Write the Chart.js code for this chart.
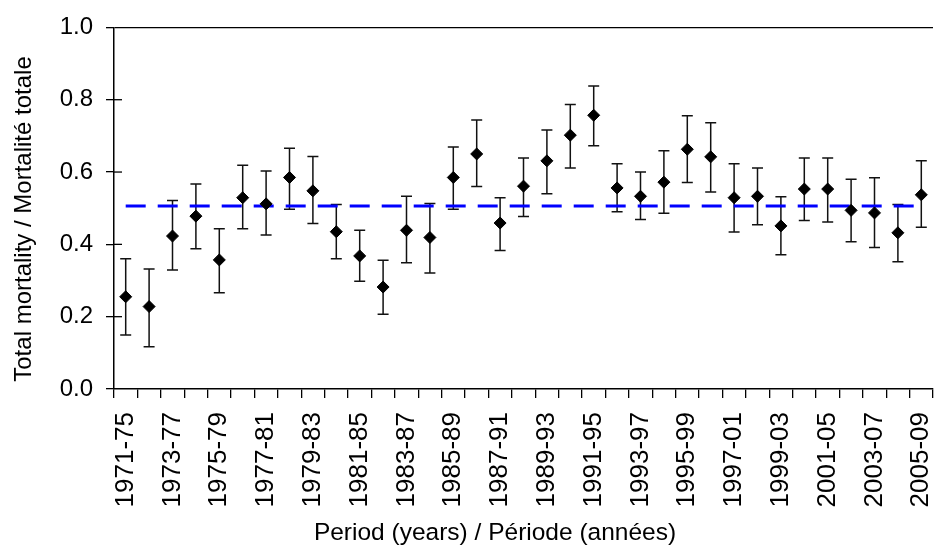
<!DOCTYPE html>
<html>
<head>
<meta charset="utf-8">
<script src="https://cdn.jsdelivr.net/npm/chart.js@4"></script>
<style>
  html, body { margin: 0; padding: 0; background: #fff; overflow: hidden; }
  #wrap { position: relative; width: 940px; height: 557px; }
</style>
</head>
<body>
<div id="wrap"><canvas id="myChart"></canvas></div>
<script>
// periods (5-year running windows)
const periods = ['1971-75','1972-76','1973-77','1974-78','1975-79','1976-80','1977-81','1978-82','1979-83','1980-84',
  '1981-85','1982-86','1983-87','1984-88','1985-89','1986-90','1987-91','1988-92','1989-93','1990-94',
  '1991-95','1992-96','1993-97','1994-98','1995-99','1996-00','1997-01','1998-02','1999-03','2000-04',
  '2001-05','2002-06','2003-07','2004-08','2005-09'];
// total mortality estimates
const mortality = [0.255,0.228,0.423,0.478,0.357,0.529,0.512,0.585,0.548,0.435,
  0.368,0.282,0.439,0.419,0.585,0.650,0.459,0.561,0.631,0.702,
  0.757,0.556,0.533,0.572,0.663,0.642,0.529,0.533,0.451,0.553,
  0.553,0.494,0.487,0.432,0.537];
// upper / lower limits of the error bars
const upper = [0.360,0.332,0.521,0.567,0.443,0.619,0.603,0.666,0.643,0.510,
  0.439,0.356,0.533,0.513,0.669,0.744,0.529,0.639,0.716,0.787,
  0.838,0.623,0.600,0.659,0.756,0.736,0.623,0.611,0.532,0.639,
  0.639,0.580,0.584,0.510,0.631];
const lower = [0.149,0.117,0.329,0.388,0.266,0.443,0.426,0.497,0.458,0.360,
  0.298,0.207,0.349,0.321,0.497,0.560,0.383,0.477,0.540,0.611,
  0.673,0.490,0.469,0.486,0.571,0.545,0.434,0.454,0.371,0.466,
  0.462,0.407,0.391,0.352,0.447];
// mean over the whole series (dashed line)
const meanMortality = 0.506;
const yTicks = [0, 0.2, 0.4, 0.6, 0.8, 1.0];

const FONT = "'Liberation Sans', Arial, sans-serif";

// error bars + small inner tick marks on the y axis
const errorBars = {
  id: 'errorBars',
  beforeDatasetsDraw(chart) {
    const {ctx, scales: {x, y}, chartArea} = chart;
    ctx.save();
    ctx.strokeStyle = '#111';
    ctx.lineWidth = 1.5;
    for (let i = 0; i < mortality.length; i++) {
      const px = x.getPixelForValue(i);
      const yt = y.getPixelForValue(upper[i]);
      const yb = y.getPixelForValue(lower[i]);
      ctx.beginPath();
      ctx.moveTo(px, yt); ctx.lineTo(px, yb);
      ctx.moveTo(px - 5.5, yt); ctx.lineTo(px + 5.5, yt);
      ctx.moveTo(px - 5.5, yb); ctx.lineTo(px + 5.5, yb);
      ctx.stroke();
    }
    // inner half of the crossing y ticks
    ctx.strokeStyle = '#000';
    ctx.lineWidth = 1.3;
    yTicks.slice(1, -1).forEach(v => {
      const py = y.getPixelForValue(v);
      ctx.beginPath();
      ctx.moveTo(chartArea.left, py); ctx.lineTo(chartArea.left + 8, py);
      ctx.stroke();
    });
    ctx.restore();
  }
};

// axis titles
const axisTitles = {
  id: 'axisTitles',
  afterDraw(chart) {
    const ctx = chart.ctx;
    ctx.save();
    ctx.fillStyle = '#000';
    ctx.font = '24.5px ' + FONT;
    ctx.textAlign = 'center';
    ctx.textBaseline = 'alphabetic';
    ctx.fillText('Period (years) / Période (années)', 495, 540);
    ctx.font = '24px ' + FONT;
    ctx.translate(31, 219);
    ctx.rotate(-Math.PI / 2);
    ctx.fillText('Total mortality / Mortalité totale', 0, 0);
    ctx.restore();
  }
};

const ctx = document.getElementById('myChart');
new Chart(ctx, {
  type: 'line',
  data: {
    labels: periods,
    datasets: [
      {
        label: 'Total mortality',
        data: mortality,
        showLine: false,
        pointStyle: 'rectRot',
        pointRadius: 6,
        pointBackgroundColor: '#000',
        pointBorderColor: '#000',
        pointBorderWidth: 1,
        order: 0
      },
      {
        label: 'Mean',
        data: periods.map(() => meanMortality),
        borderColor: '#0000ff',
        borderWidth: 3,
        borderDash: [20, 12],
        pointRadius: 0,
        fill: false,
        order: 1
      }
    ]
  },
  options: {
    responsive: true,
    maintainAspectRatio: false,
    animation: false,
    layout: { padding: { top: 20, right: 4.6, left: 0, bottom: 0 } },
    plugins: {
      legend: { display: false },
      tooltip: { enabled: false }
    },
    scales: {
      x: {
        offset: true,
        grid: { offset: true, drawOnChartArea: false, tickLength: 9, color: '#000', lineWidth: 1.3 },
        border: { color: '#000', width: 1.5 },
        ticks: {
          autoSkip: false,
          maxRotation: 90,
          minRotation: 90,
          padding: 14,
          color: '#000',
          font: { family: FONT, size: 26 },
          callback: (v, i) => (i % 2 === 0 ? periods[i] : '')
        },
        afterFit: s => { s.height = 168; s.paddingLeft = 0; s.paddingRight = 0; }
      },
      y: {
        min: 0,
        max: 1,
        afterBuildTicks: s => { s.ticks = yTicks.map(v => ({ value: v })); },
        grid: {
          drawOnChartArea: true,
          color: c => (c.tick && c.tick.value === 1 ? '#000' : 'rgba(0,0,0,0)'),
          tickColor: '#000',
          tickLength: 8,
          lineWidth: 1.3
        },
        border: { color: '#000', width: 1.5 },
        ticks: {
          padding: 13,
          color: '#000',
          font: { family: FONT, size: 24 },
          callback: v => Number(v).toFixed(1)
        },
        afterFit: s => { s.width = 114; }
      }
    }
  },
  plugins: [errorBars, axisTitles]
});
</script>
</body>
</html>
